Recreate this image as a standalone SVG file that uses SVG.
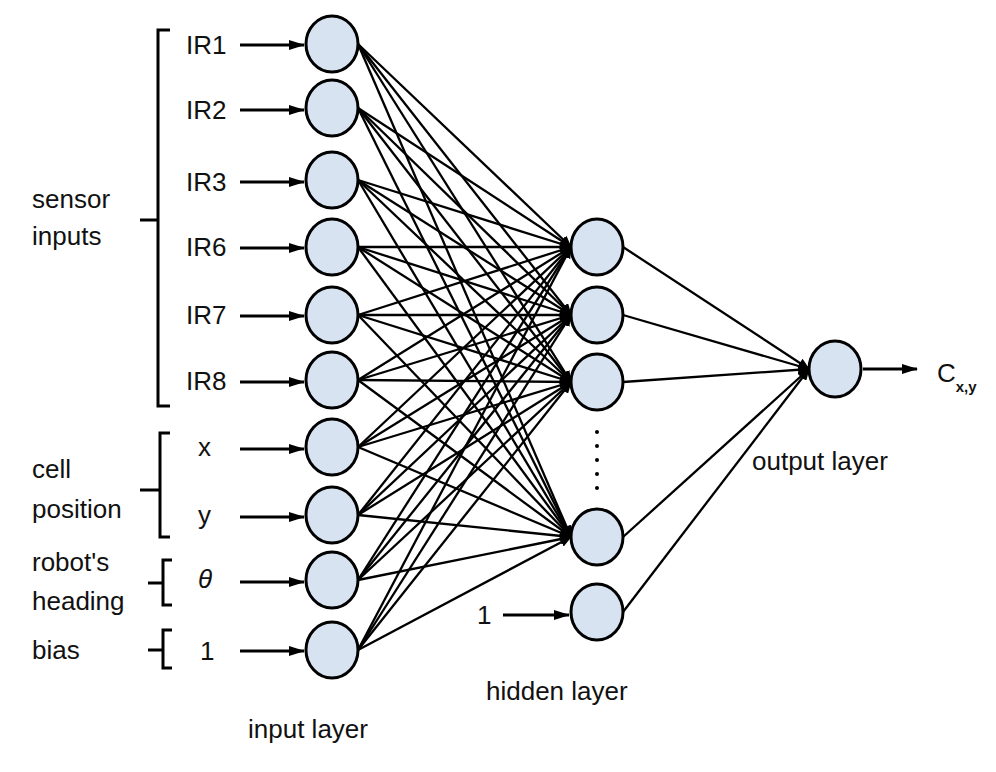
<svg xmlns="http://www.w3.org/2000/svg" width="996" height="772" viewBox="0 0 996 772">
<defs>
<marker id="ah" markerWidth="12" markerHeight="10" refX="11" refY="5" orient="auto" markerUnits="userSpaceOnUse"><path d="M0,0 L12,5 L0,10 Z" fill="#000"/></marker>
<marker id="ah2" markerWidth="16" markerHeight="10" refX="15" refY="5" orient="auto" markerUnits="userSpaceOnUse"><path d="M0,0 L16,5 L0,10 Z" fill="#000"/></marker>
</defs>
<style>
.n{fill:#d7e3f1;stroke:#000;stroke-width:3}
.c line{stroke:#000;stroke-width:2.3}
.a line{stroke:#000;stroke-width:3}
.t{font-family:"Liberation Sans",Arial,sans-serif;font-size:26px;fill:#111}
.b{stroke:#000;stroke-width:3;fill:none}
</style>
<rect width="996" height="772" fill="#fff"/>
<g id="connectors">
<g class="c" marker-end="url(#ah)">
<line x1="358" y1="44" x2="571" y2="247"/><line x1="358" y1="44" x2="571" y2="315"/><line x1="358" y1="44" x2="571" y2="382"/><line x1="358" y1="44" x2="571" y2="537"/>
<line x1="358" y1="108" x2="571" y2="247"/><line x1="358" y1="108" x2="571" y2="315"/><line x1="358" y1="108" x2="571" y2="382"/><line x1="358" y1="108" x2="571" y2="537"/>
<line x1="358" y1="180" x2="571" y2="247"/><line x1="358" y1="180" x2="571" y2="315"/><line x1="358" y1="180" x2="571" y2="382"/><line x1="358" y1="180" x2="571" y2="537"/>
<line x1="358" y1="247" x2="571" y2="247"/><line x1="358" y1="247" x2="571" y2="315"/><line x1="358" y1="247" x2="571" y2="382"/><line x1="358" y1="247" x2="571" y2="537"/>
<line x1="358" y1="315" x2="571" y2="247"/><line x1="358" y1="315" x2="571" y2="315"/><line x1="358" y1="315" x2="571" y2="382"/><line x1="358" y1="315" x2="571" y2="537"/>
<line x1="358" y1="380" x2="571" y2="247"/><line x1="358" y1="380" x2="571" y2="315"/><line x1="358" y1="380" x2="571" y2="382"/><line x1="358" y1="380" x2="571" y2="537"/>
<line x1="358" y1="447" x2="571" y2="247"/><line x1="358" y1="447" x2="571" y2="315"/><line x1="358" y1="447" x2="571" y2="382"/><line x1="358" y1="447" x2="571" y2="537"/>
<line x1="358" y1="515" x2="571" y2="247"/><line x1="358" y1="515" x2="571" y2="315"/><line x1="358" y1="515" x2="571" y2="382"/><line x1="358" y1="515" x2="571" y2="537"/>
<line x1="358" y1="580" x2="571" y2="247"/><line x1="358" y1="580" x2="571" y2="315"/><line x1="358" y1="580" x2="571" y2="382"/><line x1="358" y1="580" x2="571" y2="537"/>
<line x1="358" y1="650" x2="571" y2="247"/><line x1="358" y1="650" x2="571" y2="315"/><line x1="358" y1="650" x2="571" y2="382"/><line x1="358" y1="650" x2="571" y2="537"/>
<line x1="623" y1="247" x2="809" y2="369"/><line x1="623" y1="315" x2="809" y2="369"/><line x1="623" y1="382" x2="809" y2="369"/><line x1="623" y1="537" x2="809" y2="369"/><line x1="623" y1="612" x2="809" y2="369"/>
</g>
<g class="a" marker-end="url(#ah2)">
<line x1="240" y1="45" x2="304" y2="45"/><line x1="240" y1="110" x2="304" y2="110"/><line x1="240" y1="182" x2="304" y2="182"/><line x1="240" y1="248" x2="304" y2="248"/><line x1="240" y1="316" x2="304" y2="316"/><line x1="240" y1="382" x2="304" y2="382"/><line x1="240" y1="449" x2="304" y2="449"/><line x1="240" y1="517" x2="304" y2="517"/><line x1="240" y1="582" x2="304" y2="582"/><line x1="240" y1="651" x2="304" y2="651"/>
<line x1="503" y1="615" x2="569" y2="615"/>
<line x1="863" y1="369" x2="917" y2="369"/>
</g>
</g>
<g id="brackets">
<path class="b" d="M170,30 L158,30 L158,406 L170,406 M158,220 L140,220"/>
<path class="b" d="M170,433 L160,433 L160,537 L170,537 M160,490 L140,490"/>
<path class="b" d="M172,560 L163,560 L163,605 L172,605 M163,583 L148,583"/>
<path class="b" d="M172,630 L163,630 L163,668 L172,668 M163,650 L148,650"/>
</g>
<g id="labels">
<text class="t" x="32" y="208">sensor</text>
<text class="t" x="32" y="245">inputs</text>
<text class="t" x="32" y="478">cell</text>
<text class="t" x="32" y="518">position</text>
<text class="t" x="32" y="571">robot's</text>
<text class="t" x="32" y="610">heading</text>
<text class="t" x="32" y="659">bias</text>
<text class="t" x="186" y="54">IR1</text>
<text class="t" x="186" y="119">IR2</text>
<text class="t" x="186" y="191">IR3</text>
<text class="t" x="186" y="256">IR6</text>
<text class="t" x="186" y="324">IR7</text>
<text class="t" x="186" y="390">IR8</text>
<text class="t" x="198" y="456">x</text>
<text class="t" x="198" y="524">y</text>
<text class="t" x="198" y="588" font-style="italic">θ</text>
<text class="t" x="200" y="660">1</text>
<text class="t" x="477" y="624">1</text>
<text class="t" x="248" y="738">input layer</text>
<text class="t" x="486" y="700">hidden layer</text>
<text class="t" x="752" y="470">output layer</text>
<text class="t" x="937" y="382">C<tspan font-size="15" font-weight="bold" dy="10">x,y</tspan></text>
</g>
<g id="dots" fill="#000">
<circle cx="597" cy="432" r="2"/><circle cx="597" cy="446" r="2"/><circle cx="597" cy="460" r="2"/><circle cx="597" cy="474" r="2"/><circle cx="597" cy="488" r="2"/>
</g>
<g id="input-layer">
<g id="in-ir1"><ellipse class="n" cx="332" cy="44" rx="26" ry="28"/></g>
<g id="in-ir2"><ellipse class="n" cx="332" cy="108" rx="26" ry="28"/></g>
<g id="in-ir3"><ellipse class="n" cx="332" cy="180" rx="26" ry="28"/></g>
<g id="in-ir6"><ellipse class="n" cx="332" cy="247" rx="26" ry="28"/></g>
<g id="in-ir7"><ellipse class="n" cx="332" cy="315" rx="26" ry="28"/></g>
<g id="in-ir8"><ellipse class="n" cx="332" cy="380" rx="26" ry="28"/></g>
<g id="in-x"><ellipse class="n" cx="332" cy="447" rx="26" ry="28"/></g>
<g id="in-y"><ellipse class="n" cx="332" cy="515" rx="26" ry="28"/></g>
<g id="in-theta"><ellipse class="n" cx="332" cy="580" rx="26" ry="28"/></g>
<g id="in-bias"><ellipse class="n" cx="332" cy="650" rx="26" ry="28"/></g>
</g>
<g id="hidden-layer">
<g id="h1"><ellipse class="n" cx="597" cy="247" rx="26" ry="28"/></g>
<g id="h2"><ellipse class="n" cx="597" cy="315" rx="26" ry="28"/></g>
<g id="h3"><ellipse class="n" cx="597" cy="382" rx="26" ry="28"/></g>
<g id="hn"><ellipse class="n" cx="597" cy="537" rx="26" ry="28"/></g>
<g id="hbias"><ellipse class="n" cx="597" cy="612" rx="26" ry="28"/></g>
</g>
<g id="output-node"><ellipse class="n" cx="835" cy="369" rx="26" ry="28"/></g>
</svg>
